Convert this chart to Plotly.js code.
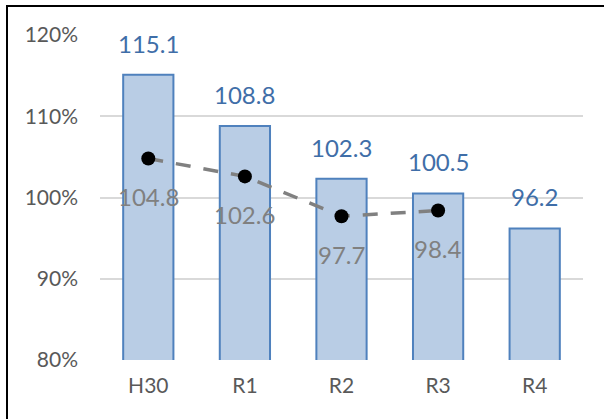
<!DOCTYPE html>
<html>
<head>
<meta charset="utf-8">
<script src="https://cdn.plot.ly/plotly-3.0.1.min.js"></script>
<style>
  html, body { margin: 0; padding: 0; background: #fff; }
  #wrap { position: relative; width: 604px; height: 419px; overflow: hidden; }
  #chart { position: absolute; left: 0; top: 0; width: 604px; height: 419px; }
  #frame { position: absolute; left: 6px; top: 5px; width: 800px; height: 600px;
           border-left: 2px solid #000; border-top: 2px solid #000; pointer-events: none; }
</style>
</head>
<body>
<div id="wrap">
  <div id="chart"></div>
  <div id="frame"></div>
</div>
<script>
// Fiscal years
const years = ['H30', 'R1', 'R2', 'R3', 'R4'];
// Bar series (%)
const barValues = [115.1, 108.8, 102.3, 100.5, 96.2];
// Line series (%), no value for R4
const lineYears = ['H30', 'R1', 'R2', 'R3'];
const lineValues = [104.8, 102.6, 97.7, 98.4];
// Y axis ticks
const yTicks = [80, 90, 100, 110, 120];
const yTickText = ['80%', '90%', '100%', '110%', '120%'];

const FONT = 'Lato, "Liberation Sans", sans-serif';

const bars = {
  type: 'bar',
  x: years,
  y: barValues,
  base: 0,
  marker: { color: '#B9CDE5', line: { color: '#4F81BD', width: 2 } },
  hoverinfo: 'skip'
};

const line = {
  type: 'scatter',
  mode: 'lines+markers',
  x: lineYears,
  y: lineValues,
  line: { color: '#808080', width: 3.5, dash: '15px,13px' },
  marker: { color: '#000', size: 14 },
  hoverinfo: 'skip'
};

const annotations = [];
years.forEach((c, i) => {
  annotations.push({
    x: c, y: barValues[i], xref: 'x', yref: 'y',
    text: barValues[i].toFixed(1), showarrow: false,
    yanchor: 'bottom', yshift: 15,
    font: { family: FONT, size: 24, color: '#3F6EA8' }
  });
});
lineYears.forEach((c, i) => {
  annotations.push({
    x: c, y: lineValues[i], xref: 'x', yref: 'y',
    text: lineValues[i].toFixed(1), showarrow: false,
    yanchor: 'middle', yshift: -38,
    font: { family: FONT, size: 24, color: '#808080' }
  });
});

const layout = {
  width: 604, height: 419,
  margin: { l: 100, r: 21, t: 35, b: 59 },
  paper_bgcolor: '#fff', plot_bgcolor: '#fff',
  showlegend: false,
  bargap: 0.48,
  font: { family: FONT, size: 21, color: '#595959' },
  xaxis: {
    type: 'category',
    range: [-0.5, 4.5],
    showgrid: false,
    showline: false,
    ticks: '',
    ticklabelstandoff: 11,
    tickfont: { family: FONT, size: 21, color: '#595959' }
  },
  yaxis: {
    range: [80, 120],
    tickvals: yTicks,
    ticktext: yTickText,
    showgrid: true,
    gridcolor: '#D9D9D9',
    gridwidth: 2,
    zeroline: false,
    showline: false,
    ticks: '',
    ticklabelstandoff: 21,
    tickfont: { family: FONT, size: 21, color: '#595959' }
  },
  annotations: annotations
};

Plotly.newPlot('chart', [bars, line], layout, { staticPlot: true, displayModeBar: false });
</script>
</body>
</html>
